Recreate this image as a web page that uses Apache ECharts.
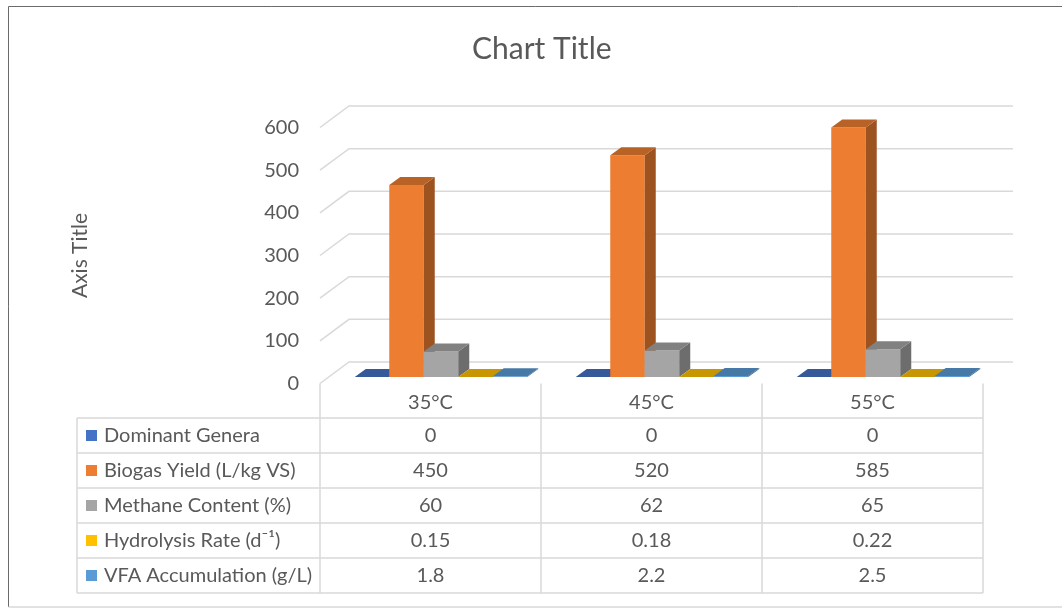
<!DOCTYPE html>
<html>
<head>
<meta charset="utf-8">
<title>Chart Title</title>
<script src="https://cdn.jsdelivr.net/npm/echarts@6/dist/echarts.min.js"></script>
<style>
  html, body { margin: 0; padding: 0; background: #ffffff; }
  #chart { width: 1062px; height: 609px; }
</style>
</head>
<body>
<div id="chart"></div>
<script>
// Temperature groups and measured series
const categories = ['35°C', '45°C', '55°C'];
const seriesNames = [
  'Dominant Genera',
  'Biogas Yield (L/kg VS)',
  'Methane Content (%)',
  'Hydrolysis Rate (d\u207B\u00B9)',
  'VFA Accumulation (g/L)'
];
const dominantGenera = [0, 0, 0];
const biogasYield = [450, 520, 585];
const methaneContent = [60, 62, 65];
const hydrolysisRate = [0.15, 0.18, 0.22];
const vfaAccumulation = [1.8, 2.2, 2.5];
const yTicks = [0, 100, 200, 300, 400, 500, 600];

const seriesValues = [dominantGenera, biogasYield, methaneContent, hydrolysisRate, vfaAccumulation];
const palette = ['#4472C4', '#ED7D31', '#A5A5A5', '#FFC000', '#5B9BD5'];

const FONT = 'Lato, "Open Sans", sans-serif';
const TEXT = '#595959';
const LINE = '#D9D9D9';

// pseudo-3D projection settings
const WALL_DX = 29, WALL_DY = -21.5;   // front edge -> back wall
const BAR_DX = 8.8, BAR_DY = -6.5;     // front edge -> bar front face
const BAR_DEPTH_X = 11, BAR_DEPTH_Y = -8;
const BAR_W = 34.5;
const BAR_GROUP_SHIFT = 1.7;
const HEADER_H = 34.5, ROW_H = 35;
const TABLE_LEFT = 77;

function shade(hex, f) {
  const n = parseInt(hex.slice(1), 16);
  const r = Math.round(((n >> 16) & 255) * f);
  const g = Math.round(((n >> 8) & 255) * f);
  const b = Math.round((n & 255) * f);
  return 'rgb(' + r + ',' + g + ',' + b + ')';
}

// back wall gridlines with their left-side diagonal
function renderWall(params, api) {
  const v = api.value(1);
  const p = api.coord([0, v]);
  const band = api.size([1, 0])[0];
  const left = api.coord([0, 0])[0] - band / 2;
  const right = api.coord([categories.length - 1, 0])[0] + band / 2;
  return {
    type: 'polyline',
    shape: {
      points: [
        [left, p[1]],
        [left + WALL_DX, p[1] + WALL_DY],
        [right + WALL_DX + 1, p[1] + WALL_DY]
      ]
    },
    style: { stroke: LINE, lineWidth: 1.5, fill: null },
    silent: true
  };
}

function makeBarRenderer(si) {
  const color = palette[si];
  return function (params, api) {
    const cat = api.value(0);
    const val = api.value(1);
    const base = api.coord([cat, 0]);
    const top = api.coord([cat, val]);
    const x0 = base[0] + BAR_DX + BAR_GROUP_SHIFT + (si - 2.5) * BAR_W;
    const x1 = x0 + BAR_W;
    const yb = base[1] + BAR_DY;
    const yt = top[1] + BAR_DY;
    const dx = BAR_DEPTH_X, dy = BAR_DEPTH_Y;
    return {
      type: 'group',
      children: [
        {
          type: 'polygon',
          shape: { points: [[x0, yb], [x1, yb], [x1, yt], [x0, yt]] },
          style: { fill: color }
        },
        {
          type: 'polygon',
          shape: { points: [[x1, yb], [x1, yt], [x1 + dx, yt + dy], [x1 + dx, yb + dy]] },
          style: { fill: shade(color, 0.66) }
        },
        {
          type: 'polygon',
          shape: { points: [[x0, yt], [x1, yt], [x1 + dx, yt + dy], [x0 + dx, yt + dy]] },
          style: { fill: shade(color, 0.78) }
        }
      ]
    };
  };
}

// data table frame, category headers and series names
function renderTableFrame(params, api) {
  const band = api.size([1, 0])[0];
  const floorY = api.coord([0, 0])[1];
  const colLeft = api.coord([0, 0])[0] - band / 2;
  const colRight = api.coord([categories.length - 1, 0])[0] + band / 2;
  const bodyTop = floorY + HEADER_H;
  const bottom = bodyTop + ROW_H * seriesNames.length;
  const children = [];
  // vertical dividers
  for (let c = 0; c <= categories.length; c++) {
    const x = colLeft + c * band;
    children.push({ type: 'line', shape: { x1: x, y1: floorY, x2: x, y2: bottom },
      style: { stroke: LINE, lineWidth: 1.5 } });
  }
  children.push({ type: 'line', shape: { x1: TABLE_LEFT, y1: bodyTop, x2: TABLE_LEFT, y2: bottom },
    style: { stroke: LINE, lineWidth: 1.5 } });
  // horizontal rules
  for (let r = 0; r <= seriesNames.length; r++) {
    const y = bodyTop + r * ROW_H;
    children.push({ type: 'line', shape: { x1: TABLE_LEFT, y1: y, x2: colRight, y2: y },
      style: { stroke: LINE, lineWidth: 1.5 } });
  }
  // category headers
  categories.forEach(function (name, c) {
    children.push({
      type: 'text',
      style: {
        x: api.coord([c, 0])[0], y: floorY + HEADER_H / 2 + 2,
        text: name, fill: TEXT, font: '20px ' + FONT, align: 'center', verticalAlign: 'middle'
      }
    });
  });
  // series names with colour keys
  seriesNames.forEach(function (name, r) {
    const cy = bodyTop + r * ROW_H + ROW_H / 2;
    children.push({ type: 'rect', shape: { x: 86, y: cy - 5.5, width: 11, height: 11 },
      style: { fill: palette[r] } });
    children.push({
      type: 'text',
      style: {
        x: 104, y: cy, text: name, fill: TEXT, font: '20px ' + FONT,
        align: 'left', verticalAlign: 'middle'
      }
    });
  });
  return { type: 'group', children: children, silent: true };
}

// value cells: [categoryIndex, value, rowIndex]
const tableCells = [];
seriesValues.forEach(function (vals, r) {
  vals.forEach(function (v, c) { tableCells.push([c, v, r]); });
});

function renderTableCell(params, api) {
  const c = api.value(0), v = api.value(1), r = api.value(2);
  const floorY = api.coord([0, 0])[1];
  const cy = floorY + HEADER_H + r * ROW_H + ROW_H / 2;
  return {
    type: 'text',
    style: {
      x: api.coord([c, 0])[0], y: cy, text: String(v), fill: TEXT,
      font: '20px ' + FONT, align: 'center', verticalAlign: 'middle'
    },
    silent: true
  };
}

const series = [
  {
    type: 'custom', name: 'wall', renderItem: renderWall, silent: true, z: 1,
    data: yTicks.map(function (t) { return [0, t]; })
  }
];
seriesValues.forEach(function (vals, si) {
  series.push({
    type: 'custom', name: seriesNames[si], renderItem: makeBarRenderer(si), z: 2,
    data: vals.map(function (v, c) { return [c, v]; })
  });
});
series.push({
  type: 'custom', name: 'tableFrame', renderItem: renderTableFrame, silent: true, z: 3,
  data: [[0, 0]]
});
series.push({
  type: 'custom', name: 'tableCells', renderItem: renderTableCell, silent: true, z: 3,
  data: tableCells, dimensions: ['cat', 'value', 'row']
});

const chart = echarts.init(document.getElementById('chart'), null, { renderer: 'canvas' });
chart.setOption({
  backgroundColor: '#ffffff',
  animation: false,
  title: {
    text: 'Chart Title',
    left: 467,
    top: 29,
    textStyle: { color: TEXT, fontSize: 30, fontWeight: 'normal', fontFamily: FONT }
  },
  grid: { left: 320, right: 79, top: 127.5, bottom: 225.5, containLabel: false },
  xAxis: {
    type: 'category',
    data: categories,
    axisLine: { show: false },
    axisTick: { show: false },
    axisLabel: { show: false },
    splitLine: { show: false }
  },
  yAxis: {
    type: 'value',
    min: 0, max: 600, interval: 100,
    name: 'Axis Title',
    nameLocation: 'middle',
    nameRotate: 90,
    nameGap: 229,
    nameTextStyle: { color: TEXT, fontSize: 21, fontFamily: FONT },
    axisLine: { show: false },
    axisTick: { show: false },
    splitLine: { show: false },
    axisLabel: { color: TEXT, fontSize: 20, fontFamily: FONT, margin: 21 }
  },
  graphic: [
    { type: 'line', shape: { x1: 8.5, y1: 6.5, x2: 1062, y2: 6.5 }, style: { stroke: '#6b6b6b', lineWidth: 1 } },
    { type: 'line', shape: { x1: 8.5, y1: 6.5, x2: 8.5, y2: 607 }, style: { stroke: '#6b6b6b', lineWidth: 1 } },
    { type: 'line', shape: { x1: 8.5, y1: 607, x2: 1062, y2: 607 }, style: { stroke: LINE, lineWidth: 1.5 } }
  ],
  series: series
});
</script>
</body>
</html>
